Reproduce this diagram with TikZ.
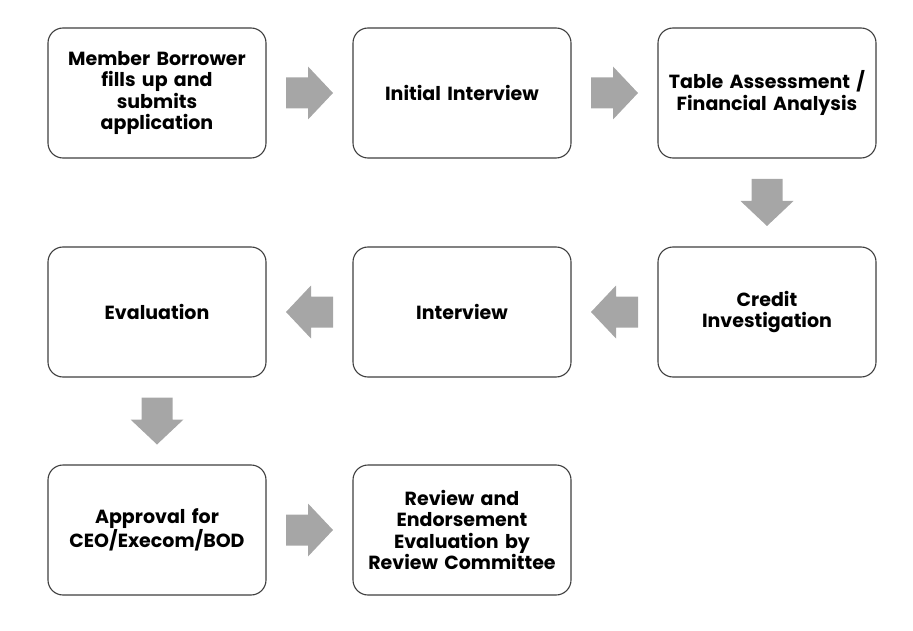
\documentclass[tikz,border=0pt]{standalone}
\usepackage{fontspec}
\setmainfont{Poppins}
\usetikzlibrary{calc}
\definecolor{arrowgray}{HTML}{A6A6A6}
\definecolor{boxline}{HTML}{3F3F3F}
\tikzset{
  stepbox/.style={draw=boxline, line width=1.1pt, rounded corners=15pt, fill=white,
    minimum width=218pt, minimum height=130pt, text width=214pt, align=center,
    inner sep=0pt, font=\fontsize{19}{21.5}\selectfont\bfseries},
  blockarrow/.pic={\fill[arrowgray] (-23.5,15.5) -- (-1.5,15.5) -- (-1.5,26.5) -- (23.5,0)
     -- (-1.5,-26.5) -- (-1.5,-15.5) -- (-23.5,-15.5) -- cycle;}
}
\begin{document}
\begin{tikzpicture}[x=1pt,y=1pt]
\useasboundingbox (0,0) rectangle (913,-631);
\node[stepbox] (a) at (157,-93) {Member Borrower\\fills up and\\submits\\application};
\node[stepbox] (b) at (462,-93) {Initial Interview};
\node[stepbox] (c) at (767,-93) {Table Assessment /\\Financial Analysis};
\node[stepbox] (d) at (767,-312) {Credit\\Investigation};
\node[stepbox] (e) at (462,-312) {Interview};
\node[stepbox] (f) at (157,-312) {Evaluation};
\node[stepbox] (g) at (157,-530) {Approval for\\CEO/Execom/BOD};
\node[stepbox] (h) at (462,-530) {Review and\\Endorsement\\Evaluation by\\Review Committee};
\pic at ($(a.east)!0.5!(b.west)$) {blockarrow};
\pic at ($(b.east)!0.5!(c.west)$) {blockarrow};
\pic[rotate=-90] at ($(c.south)!0.5!(d.north)$) {blockarrow};
\pic[rotate=180] at ($(d.west)!0.5!(e.east)$) {blockarrow};
\pic[rotate=180] at ($(e.west)!0.5!(f.east)$) {blockarrow};
\pic[rotate=-90] at ($(f.south)!0.5!(g.north)$) {blockarrow};
\pic at ($(g.east)!0.5!(h.west)$) {blockarrow};
\end{tikzpicture}
\end{document}
